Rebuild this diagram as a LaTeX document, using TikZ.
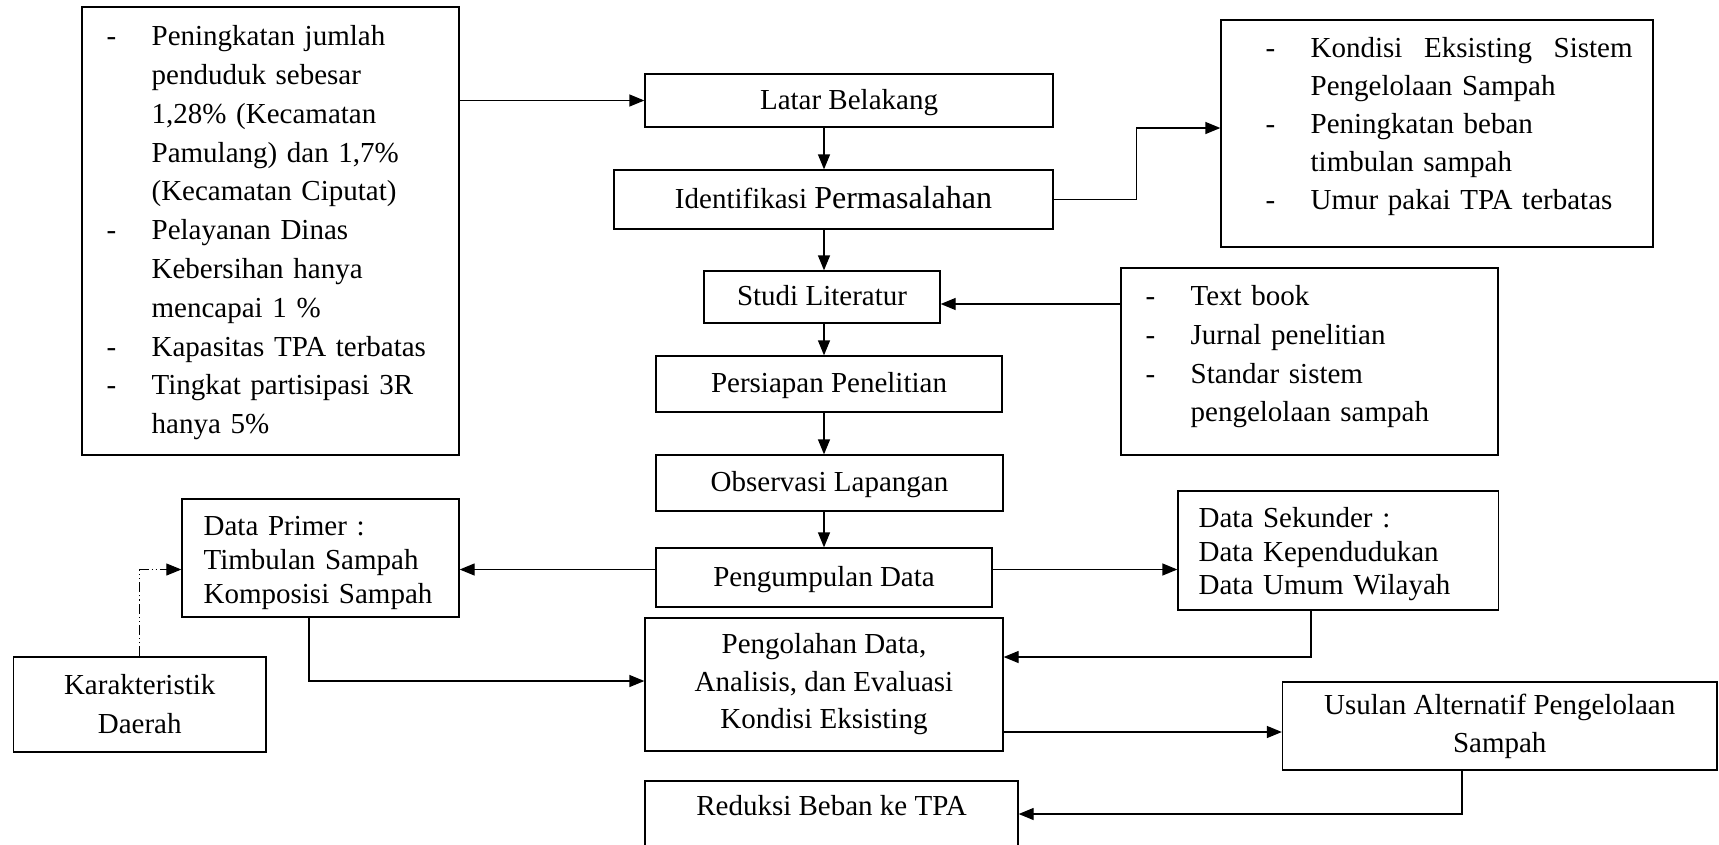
\documentclass[tikz,border=0pt]{standalone}
\usepackage{fontspec}
\setmainfont{Liberation Serif}
\usetikzlibrary{arrows.meta,calc}

\newcommand{\dashitem}[1]{\makebox[45pt][l]{-}#1}
\newcommand{\contline}[1]{\hspace*{45pt}#1}

\begin{document}
\begin{tikzpicture}[x=1pt,y=-1pt,line width=1.3pt,
  boxframe/.style={draw, inner sep=0pt, align=center},
  stepbox/.style={boxframe, font=\fontsize{29}{37.5}\selectfont, text height=22pt, text depth=5pt},
  listtext/.style={anchor=north west, inner sep=0pt, align=left, text width=420pt},
  arr/.style={-{Triangle[length=15pt,width=12pt]}},
  karline/.style={line width=0.9pt, dash pattern=on 10pt off 3pt on 1.2pt off 3pt on 1.2pt off 3pt}
]
\useasboundingbox (0,0) rectangle (1719,844);
\clip (0,0) rectangle (1719,844);

% vertical spine of the main flow
\coordinate (spine) at (824,0);

% ---------- main flow ----------
\node[stepbox, minimum width=408pt, minimum height=53pt] (lb) at (849,100.5) {Latar Belakang};
\node[stepbox, minimum width=439pt, minimum height=59pt] (ip) at (833.5,199.5)
  {Identifikasi {\fontsize{32}{37.5}\selectfont Permasalahan}};
\node[stepbox, minimum width=236pt, minimum height=52pt] (sl) at (822,297) {Studi Literatur};
\node[stepbox, minimum width=346pt, minimum height=56pt] (pp) at (829,384) {Persiapan Penelitian};
\node[stepbox, minimum width=347pt, minimum height=56pt] (ol) at (829.5,483) {Observasi Lapangan};
\node[stepbox, minimum width=336pt, minimum height=59pt] (pd) at (824,577.5) {Pengumpulan Data};
\node[boxframe, font=\fontsize{29}{37.5}\selectfont, minimum width=358pt, minimum height=133pt] (po) at (824,684.5)
  {Pengolahan Data,\\Analisis, dan Evaluasi\\Kondisi Eksisting};
\node[boxframe, font=\fontsize{29}{37.5}\selectfont, minimum width=373pt, anchor=base,
  text height=32pt, text depth=50pt, inner ysep=2pt] (rb) at (831.5,815) {Reduksi Beban ke TPA};

% ---------- background conditions ----------
\node[boxframe, minimum width=377pt, minimum height=448pt] (inp) at (270.5,231) {};
\node[listtext, font=\fontsize{29}{38.8}\selectfont] (inptxt) at (106,23) {%
  \rule{0pt}{22pt}\dashitem{Peningkatan jumlah}\\
  \contline{penduduk sebesar}\\
  \contline{1,28\% (Kecamatan}\\
  \contline{Pamulang) dan 1,7\%}\\
  \contline{(Kecamatan Ciputat)}\\
  \dashitem{Pelayanan Dinas}\\
  \contline{Kebersihan hanya}\\
  \contline{mencapai 1 \%}\\
  \dashitem{Kapasitas TPA terbatas}\\
  \dashitem{Tingkat partisipasi 3R}\\
  \contline{hanya 5\%}};

% ---------- problems ----------
\node[boxframe, minimum width=432pt, minimum height=227pt] (ke) at (1437,133.5) {};
\node[listtext, font=\fontsize{29}{38}\selectfont] (ketxt) at (1265,35) {%
  \rule{0pt}{22pt}\dashitem{\makebox[322pt]{Kondisi\hfill Eksisting\hfill Sistem}}\\
  \contline{Pengelolaan Sampah}\\
  \dashitem{Peningkatan beban}\\
  \contline{timbulan sampah}\\
  \dashitem{Umur pakai TPA terbatas}};

% ---------- literature ----------
\node[boxframe, minimum width=377pt, minimum height=187pt] (tb) at (1309.5,361.5) {};
\node[listtext, font=\fontsize{29}{38.7}\selectfont] (tbtxt) at (1145,283) {%
  \rule{0pt}{22pt}\dashitem{Text book}\\
  \dashitem{Jurnal penelitian}\\
  \dashitem{Standar sistem}\\
  \contline{pengelolaan sampah}};

% ---------- data ----------
\node[boxframe, minimum width=277pt, minimum height=118pt] (dp) at (320.5,558) {};
\node[listtext, font=\fontsize{29}{34}\selectfont] (dptxt) at (203,513) {%
  \rule{0pt}{22pt}Data Primer :\\Timbulan Sampah\\Komposisi Sampah};

\node[boxframe, minimum width=320.5pt, minimum height=119pt] (ds) at (1338.25,550.5) {};
\node[listtext, font=\fontsize{29}{33.5}\selectfont] (dstxt) at (1198,505) {%
  \rule{0pt}{22pt}Data Sekunder :\\Data Kependudukan\\Data Umum Wilayah};

\node[boxframe, font=\fontsize{29}{39}\selectfont, minimum width=252.5pt, minimum height=95pt] (kd) at (139.75,704.5)
  {Karakteristik\\Daerah};

\node[boxframe, font=\fontsize{29}{38}\selectfont, minimum width=434.5pt, minimum height=88pt] (ua) at (1499.75,726)
  {Usulan Alternatif Pengelolaan\\Sampah};

% ---------- connectors ----------
\draw[arr] (inp.east |- lb.west) -- (lb.west);
\foreach \a/\b in {lb/ip, ip/sl, sl/pp, pp/ol, ol/pd}
  \draw[arr] (\a.south -| spine) -- (\b.north -| spine);

\coordinate (kin) at ($(ke.west)+(0,-5.5)$);
\draw[arr] (ip.east) -- ++(83,0) |- (kin);

\coordinate (slin) at ($(sl.east)+(0,7)$);
\draw[arr] (tb.west |- slin) -- (slin);

\coordinate (yA) at (0,569.5);
\draw[arr] (pd.west |- yA) -- (dp.east |- yA);
\draw[arr] (pd.east |- yA) -- (ds.west |- yA);
\draw[karline, -{Triangle[length=15pt,width=12pt]}] (kd.north) |- (dp.west |- yA);

\coordinate (xB) at (309,0);
\coordinate (yC) at (0,681);
\draw[arr] (dp.south -| xB) |- (po.west |- yC);

\coordinate (xD) at (1311,0);
\coordinate (yE) at (0,657);
\draw[arr] (ds.south -| xD) |- (po.east |- yE);

\coordinate (yF) at (0,732);
\draw[arr] (po.east |- yF) -- (ua.west |- yF);

\coordinate (xG) at (1462,0);
\coordinate (yH) at (0,814);
\draw[arr] (ua.south -| xG) |- (rb.east |- yH);
\end{tikzpicture}
\end{document}
